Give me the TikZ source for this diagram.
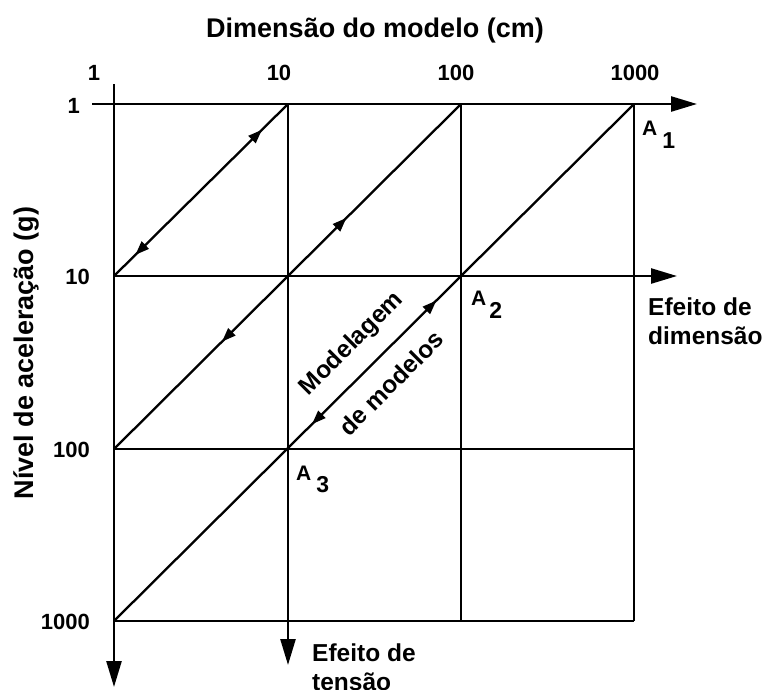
\documentclass[tikz,border=0pt]{standalone}
\usepackage{fontspec}
\setmainfont{Liberation Sans}
\usetikzlibrary{arrows.meta,decorations.markings,calc}
\begin{document}
\begin{tikzpicture}[x=1pt,y=-1pt,
  gridline/.style={line width=2.5pt},
  axis/.style={line width=2.5pt,-{Triangle[length=26pt,width=15pt]}},
  diag/.style={line width=2.3pt},
  twoway/.style 2 args={postaction={decorate},decoration={markings,
     mark=at position #1 with {\arrow{Triangle[length=14pt,width=10pt]}},
     mark=at position #2 with {\arrow{Triangle[length=14pt,width=10pt,reversed]}}}},
  titlefont/.style={font=\fontsize{27}{30}\selectfont\bfseries,inner sep=0pt},
  tick/.style={font=\fontsize{22}{24}\selectfont\bfseries,inner sep=0pt},
  lab/.style={font=\fontsize{24.5}{29}\selectfont\bfseries,inner sep=0pt,align=left},
  alab/.style={font=\fontsize{21}{21}\selectfont\bfseries,inner sep=0pt,anchor=base west}
]
\useasboundingbox (0,0) rectangle (768,689);
% grid points
\coordinate (p00) at (114,104); \coordinate (p10) at (288,104); \coordinate (p20) at (461,104); \coordinate (p30) at (634,104);
\coordinate (p01) at (114,276); \coordinate (p11) at (288,276); \coordinate (p21) at (461,276); \coordinate (p31) at (634,276);
\coordinate (p02) at (114,449); \coordinate (p12) at (288,449); \coordinate (p22) at (461,449); \coordinate (p32) at (634,449);
\coordinate (p03) at (114,621); \coordinate (p13) at (288,621); \coordinate (p23) at (461,621); \coordinate (p33) at (634,621);
% axis ends
\coordinate (topstart) at (92,104);
\coordinate (topend) at (697,104);
\coordinate (leftstart) at (114,84);
\coordinate (leftend) at (114,687);
\coordinate (midhend) at (677,276);
\coordinate (midvend) at (288,665);
% axes
\draw[axis] (topstart) -- (topend);
\draw[axis] (leftstart) -- (leftend);
\draw[axis] (p01) -- (midhend);
\draw[axis] (p10) -- (midvend);
% other grid lines
\draw[gridline] (p02) -- (p32);
\draw[gridline] (p03) -- (p33);
\draw[gridline] (p20) -- (p23);
\draw[gridline] (p30) -- (p33);
% diagonals
\draw[diag,twoway={0.85}{0.18}] (p01) -- (p10);
\draw[diag,twoway={0.67}{0.34}] (p02) -- (p20);
\draw[diag,twoway={0.62}{0.40}] (p03) -- (p30);
% title and ticks
\node[titlefont,anchor=base] (title) at (375,37) {Dimensão do modelo (cm)};
\node[tick,anchor=base] (t1) at (94,80) {1};
\node[tick,anchor=base] (t10) at (279,80) {10};
\node[tick,anchor=base] (t100) at (456,80) {100};
\node[tick,anchor=base] (t1000) at (635,80) {1000};
\node[tick,anchor=base east] (l1) at (80,113) {1};
\node[tick,anchor=base east] (l10) at (90,284) {10};
\node[tick,anchor=base east] (l100) at (90,457) {100};
\node[tick,anchor=base east] (l1000) at (90,629) {1000};
\node[titlefont,rotate=90] (ylab) at (26,353) {Nível de aceleração (g)};
% labels
\node[lab,anchor=north west] (dimeff) at (648,298) {Efeito de\\dimensão};
\node[lab,anchor=north west] (teneff) at (312,644) {Efeito de\\tensão};
\node[lab,rotate=45] (mod1) at (352,344) {Modelagem};
\node[lab,rotate=45] (mod2) at (391,383) {de modelos};
\node[alab] (A1) at ($(p30)+(8,31)$) {A\hspace{5pt}\raisebox{-13pt}{\fontsize{23}{23}\selectfont 1}};
\node[alab] (A2) at ($(p21)+(10,29)$) {A\hspace{3pt}\raisebox{-13pt}{\fontsize{23}{23}\selectfont 2}};
\node[alab] (A3) at ($(p12)+(8,31)$) {A\hspace{5pt}\raisebox{-12pt}{\fontsize{23}{23}\selectfont 3}};
\end{tikzpicture}
\end{document}
